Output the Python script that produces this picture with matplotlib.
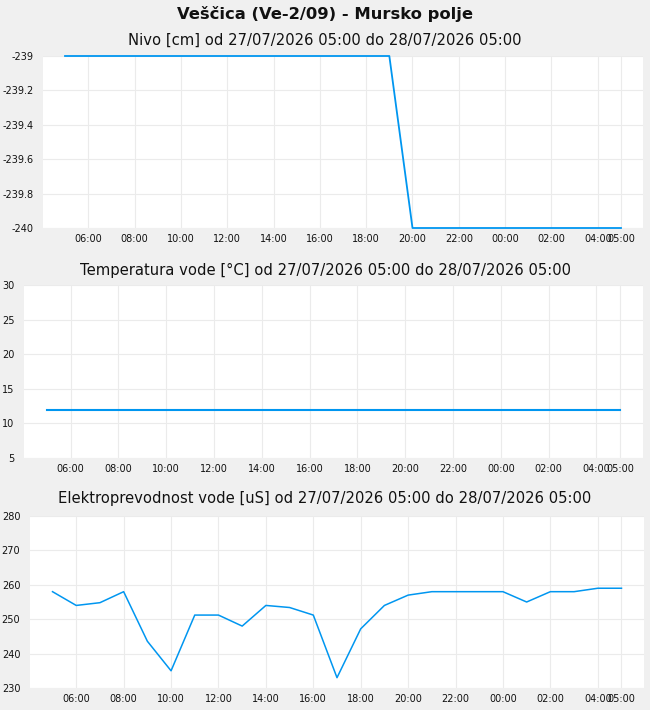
import datetime as dt
import matplotlib
matplotlib.use("Agg")
import matplotlib.pyplot as plt
import matplotlib.dates as mdates
from matplotlib.ticker import FormatStrFormatter

start = dt.datetime(2026, 7, 27, 5, 0)
hours = [start + dt.timedelta(hours=i) for i in range(25)]

# hourly readings 27/07 05:00 .. 28/07 05:00
nivo = [-239] * 15 + [-240] * 10
temperatura = [12] * 25
provodnost = [258, 254, 254.8, 258, 243.6, 235, 251.2, 251.2, 248, 254,
              253.4, 251.2, 233, 247.2, 254, 257, 258, 258, 258, 258,
              255, 258, 258, 259, 259]

main_title = "Veščica (Ve-2/09) - Mursko polje"
titles = ["Nivo [cm] od 27/07/2026 05:00 do 28/07/2026 05:00",
          "Temperatura vode [°C] od 27/07/2026 05:00 do 28/07/2026 05:00",
          "Elektroprevodnost vode [uS] od 27/07/2026 05:00 do 28/07/2026 05:00"]
ylims = [(-240, -239), (5, 30), (230, 280)]
ysteps = [0.2, 5, 10]

W, H = 650, 710
bg = "#f0f0f0"
blue = "#0096f0"
fig = plt.figure(figsize=(W / 100, H / 100), dpi=100, facecolor=bg)

# axes boxes in pixels: left, right, top, bottom
boxes = [(43, 643, 56, 228), (24, 643, 285, 458), (30, 644, 516, 688)]
title_y = [40, 270, 499]
series = [nivo, temperatura, provodnost]
widths = [1.3, 1.5, 1.1]

pad = dt.timedelta(minutes=57)
xticks = [start + dt.timedelta(hours=h) for h in range(1, 24, 2)] + [hours[-1]]

for i in range(3):
    l, r, t, b = boxes[i]
    ax = fig.add_axes([l / W, 1 - b / H, (r - l) / W, (b - t) / H])
    ax.set_facecolor("white")
    for s in ax.spines.values():
        s.set_visible(False)
    ax.plot(hours, series[i], color=blue, lw=widths[i], clip_on=False, zorder=3)
    ax.set_xlim(start - pad, hours[-1] + pad)
    lo, hi = ylims[i]
    ax.set_ylim(lo, hi)
    n = round((hi - lo) / ysteps[i])
    ax.set_yticks([lo + k * ysteps[i] for k in range(n + 1)])
    ax.yaxis.set_major_formatter(FormatStrFormatter("%g"))
    ax.set_xticks(xticks)
    ax.xaxis.set_major_formatter(mdates.DateFormatter("%H:%M"))
    ax.grid(True, color="#ebebeb", lw=0.8)
    ax.set_axisbelow(True)
    ax.tick_params(length=0, labelsize=7, colors="#111111")
    ax.tick_params(axis="y", pad=7)
    ax.tick_params(axis="x", pad=4)
    fig.text(0.5, 1 - title_y[i] / H, titles[i], ha="center", va="center",
             fontsize=10.6, color="#111111")

fig.text(0.5, 1 - 14 / H, main_title, ha="center", va="center",
         fontsize=11.8, fontweight="bold", color="#111111")

fig.savefig("out.png", dpi=100, facecolor=bg)
